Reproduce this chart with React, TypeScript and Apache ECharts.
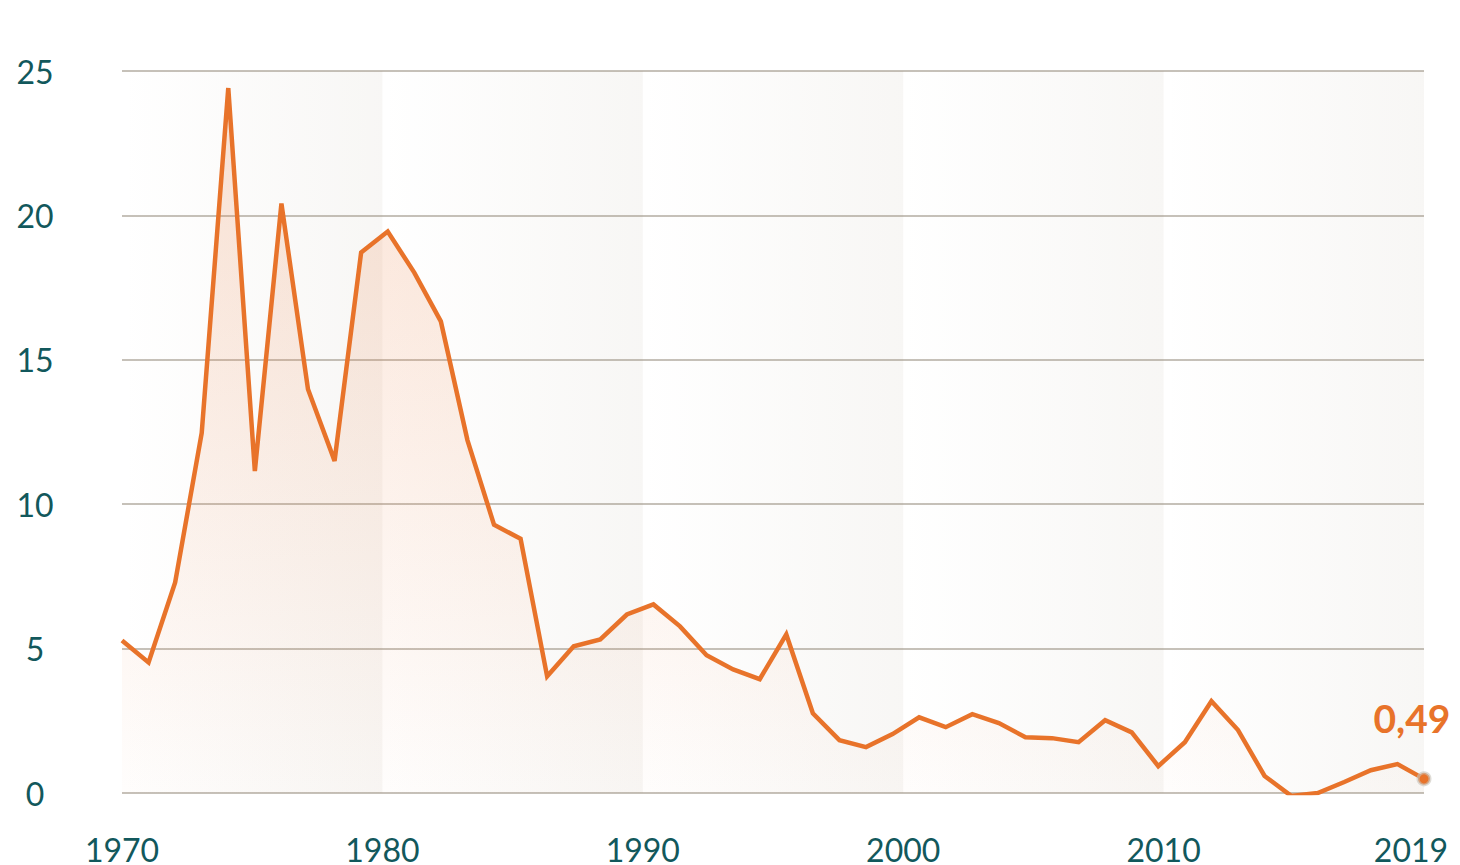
import React, { useEffect, useRef } from "react";
import * as echarts from "echarts";

const years = [
  "1970","1971","1972","1973","1974","1975","1976","1977","1978","1979",
  "1980","1981","1982","1983","1984","1985","1986","1987","1988","1989",
  "1990","1991","1992","1993","1994","1995","1996","1997","1998","1999",
  "2000","2001","2002","2003","2004","2005","2006","2007","2008","2009",
  "2010","2011","2012","2013","2014","2015","2016","2017","2018","2019",
];

const values = [
  5.28, 4.52, 7.29, 12.47, 24.41, 11.15, 20.41, 13.98, 11.5, 18.72,
  19.44, 18.02, 16.33, 12.22, 9.29, 8.8, 4.04, 5.08, 5.32, 6.18,
  6.53, 5.77, 4.77, 4.28, 3.94, 5.49, 2.76, 1.83, 1.59, 2.04,
  2.62, 2.28, 2.73, 2.42, 1.93, 1.9, 1.76, 2.52, 2.1, 0.93,
  1.76, 3.18, 2.18, 0.59, -0.1, 0.0, 0.38, 0.79, 1.0, 0.49,
];

const yTicks = [0, 5, 10, 15, 20, 25];
const decadeBands = [
  [1970, 1980],
  [1980, 1990],
  [1990, 2000],
  [2000, 2010],
  [2010, 2020],
];
const xTickLabels: Record<string, string> = {
  "1970": "1970",
  "1980": "1980",
  "1990": "1990",
  "2000": "2000",
  "2010": "2010",
  "2019.5": "2019",
};
const endLabel = "0,49";

const TEAL = "#12585c";
const ORANGE = "#e8732a";
const GRID = "#c6c1b9";

export default function App() {
  const ref = useRef<HTMLDivElement>(null);
  useEffect(() => {
    if (!ref.current) return;
    const chart = echarts.init(ref.current, undefined, { renderer: "svg" });
    const last = values.length - 1;
    const bandGradient = new echarts.graphic.LinearGradient(0, 0, 1, 0, [
      { offset: 0, color: "rgba(150,135,110,0)" },
      { offset: 1, color: "rgba(150,135,110,0.07)" },
    ]);
    chart.setOption({
      animation: false,
      backgroundColor: "#ffffff",
      grid: { left: 122, right: 36, top: 71, bottom: 70 },
      xAxis: [
        {
          type: "category",
          data: years,
          boundaryGap: false,
          show: false,
        },
        {
          type: "value",
          min: 1970,
          max: 2020,
          interval: 0.5,
          position: "bottom",
          axisLine: { show: false },
          axisTick: { show: false },
          splitLine: { show: false },
          axisLabel: {
            show: true,
            margin: 40,
            color: TEAL,
            fontFamily: "Lato",
            fontSize: 32,
            formatter: (v: number) => xTickLabels[String(v)] ?? "",
          },
        },
      ],
      yAxis: {
        type: "value",
        min: yTicks[0],
        max: yTicks[yTicks.length - 1],
        interval: 5,
        axisLine: { show: false },
        axisTick: { show: false },
        splitLine: { show: true, lineStyle: { color: GRID, width: 2 } },
        axisLabel: {
          color: TEAL,
          fontFamily: "Lato",
          fontSize: 32,
          align: "center",
          margin: 87,
        },
      },
      series: [
        {
          type: "line",
          xAxisIndex: 1,
          data: [],
          silent: true,
          z: 1,
          markArea: {
            silent: true,
            itemStyle: { color: bandGradient },
            data: decadeBands.map(([a, b]) => [
              { xAxis: a, yAxis: yTicks[0] },
              { xAxis: b, yAxis: yTicks[yTicks.length - 1] },
            ]),
          },
        },
        {
          type: "line",
          xAxisIndex: 0,
          data: values.map((v, i) =>
            i === last
              ? {
                  value: v,
                  label: {
                    show: true,
                    formatter: endLabel,
                    position: [-43, -73],
                    align: "left",
                    verticalAlign: "top",
                    color: ORANGE,
                    fontFamily: "Lato",
                    fontWeight: "bold",
                    fontSize: 39,
                  },
                }
              : v
          ),
          symbol: "circle",
          symbolSize: (_v: any, p: any) => (p.dataIndex === last ? 12 : 0),
          showSymbol: true,
          itemStyle: {
            color: ORANGE,
            borderColor: "rgba(200,195,185,0.6)",
            borderWidth: 3,
          },
          lineStyle: { color: ORANGE, width: 4.5, join: "miter" },
          areaStyle: {
            color: new echarts.graphic.LinearGradient(0, 0, 0, 1, [
              { offset: 0, color: "rgba(236,130,70,0.32)" },
              { offset: 1, color: "rgba(236,130,70,0.02)" },
            ]),
          },
          z: 3,
        },
      ],
    });
    return () => chart.dispose();
  }, []);
  return (
    <div
      ref={ref}
      style={{ position: "fixed", left: 0, top: 0, width: 1460, height: 865 }}
    />
  );
}
